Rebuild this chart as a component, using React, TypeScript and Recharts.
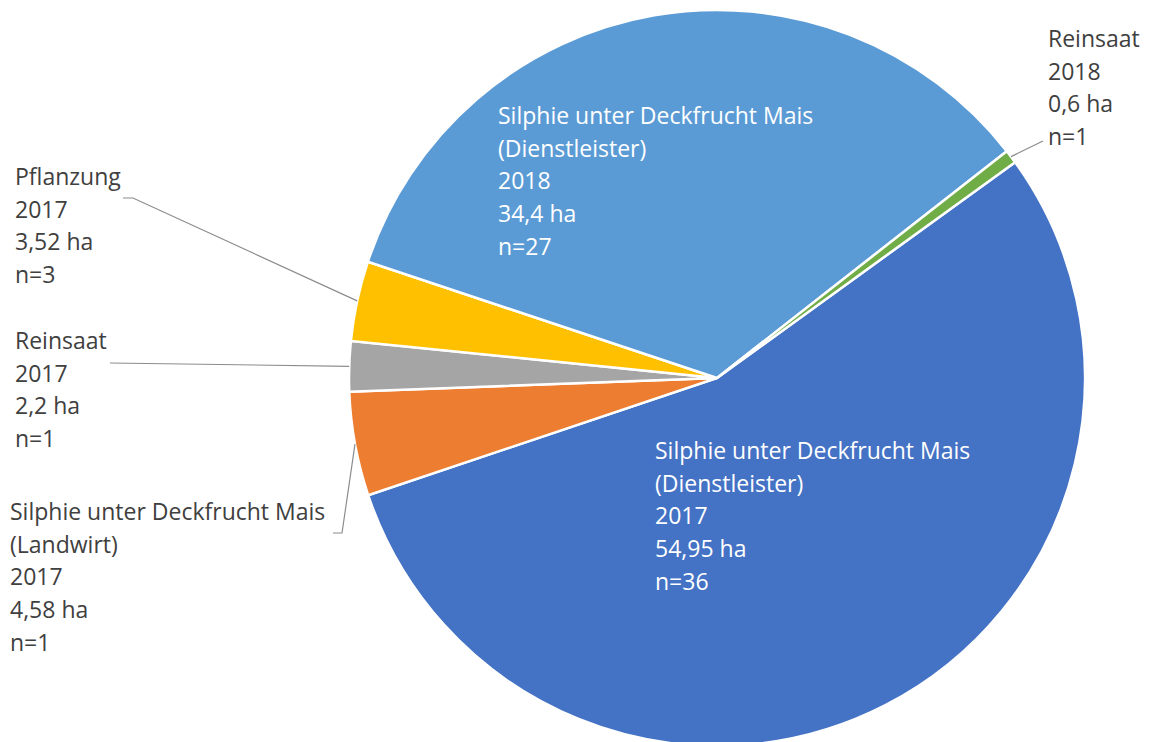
import React from 'react';
import { PieChart, Pie, Cell } from 'recharts';

// Data (order: clockwise from the green/dark-blue boundary)
const nameLines: string[][] = [
  ['Silphie unter Deckfrucht Mais', '(Dienstleister)'],
  ['Silphie unter Deckfrucht Mais', '(Landwirt)'],
  ['Reinsaat'],
  ['Pflanzung'],
  ['Silphie unter Deckfrucht Mais', '(Dienstleister)'],
  ['Reinsaat'],
];
const years = ['2017', '2017', '2017', '2017', '2018', '2018'];
const areas = [54.95, 4.58, 2.2, 3.52, 34.4, 0.6];
const counts = [36, 1, 1, 3, 27, 1];

// Styles
const colors = ['#4472C4', '#ED7D31', '#A5A5A5', '#FFC000', '#5B9BD5', '#70AD47'];

// Label layout (text position, inside/outside, leader start points)
type LabelLayout = { x: number; y: number; inside: boolean; leader?: number[][] };
const labelLayout: LabelLayout[] = [
  { x: 655, y: 450, inside: true },
  { x: 10, y: 511, inside: false, leader: [[333, 533], [342, 533]] },
  { x: 15, y: 340, inside: false, leader: [[110, 363]] },
  { x: 15, y: 176, inside: false, leader: [[123, 198], [133, 198]] },
  { x: 498, y: 115, inside: true },
  { x: 1048, y: 38, inside: false, leader: [[1043, 141]] },
];

const data = areas.map((v, i) => ({
  name: nameLines[i].join(' ') + ' ' + years[i],
  value: v,
  lines: [...nameLines[i], years[i], String(v).replace('.', ',') + ' ha', 'n=' + counts[i]],
}));

const FONT = '"Open Sans", sans-serif';
const LINE_H = 32.7;
const RAD = Math.PI / 180;

const renderLabel = (props: any) => {
  const { cx, cy, midAngle, outerRadius, index } = props;
  const lay = labelLayout[index];
  const lines: string[] = data[index].lines;
  const ax = cx + outerRadius * Math.cos(-midAngle * RAD);
  const ay = cy + outerRadius * Math.sin(-midAngle * RAD);
  const pts = lay.leader ? [...lay.leader, [ax, ay]] : null;
  return (
    <g key={'lbl' + index}>
      {pts && (
        <polyline
          points={pts.map((p) => p.join(',')).join(' ')}
          fill="none"
          stroke="#8C8C8C"
          strokeWidth={1.2}
        />
      )}
      {lines.map((t, j) => (
        <text
          key={j}
          x={lay.x}
          y={lay.y + j * LINE_H}
          dominantBaseline="central"
          textAnchor="start"
          fill={lay.inside ? '#FFFFFF' : '#404040'}
          fontFamily={FONT}
          fontSize={23}
        >
          {t}
        </text>
      ))}
    </g>
  );
};

export default function App() {
  return (
    <div style={{ position: 'absolute', left: 0, top: 0, width: 1149, height: 742, background: '#fff' }}>
      <PieChart width={1149} height={742}>
        <Pie
          data={data}
          dataKey="value"
          nameKey="name"
          cx={712}
          cy={373}
          outerRadius={368}
          startAngle={35.9}
          endAngle={35.9 - 360}
          stroke="#FFFFFF"
          strokeWidth={2.5}
          label={renderLabel}
          labelLine={false}
          isAnimationActive={false}
        >
          {data.map((_, i) => (
            <Cell key={i} fill={colors[i]} />
          ))}
        </Pie>
      </PieChart>
    </div>
  );
}
